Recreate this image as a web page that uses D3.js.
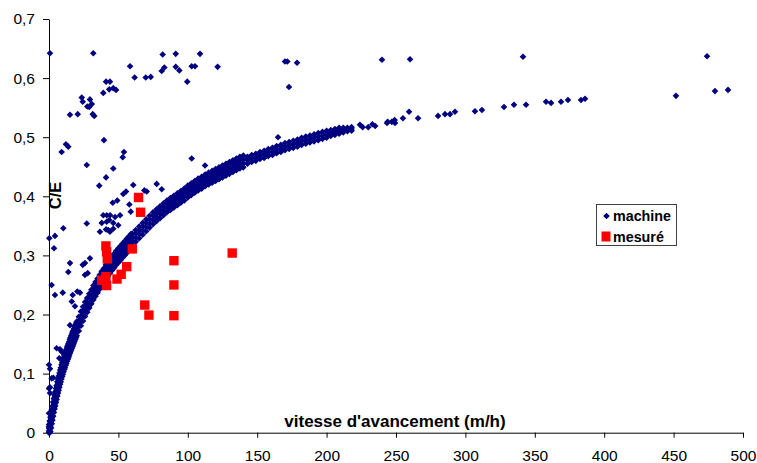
<!DOCTYPE html>
<html><head><meta charset="utf-8">
<script src="https://cdn.jsdelivr.net/npm/d3@7"></script>
<style>
html,body{margin:0;padding:0;background:#fff;}
svg{display:block;font-family:"Liberation Sans",Arial,sans-serif;}
</style></head>
<body>
<svg id="chart" width="757" height="463"></svg>
<script>
// ---- data ----
const xTicks = [0,50,100,150,200,250,300,350,400,450,500];
const yTicks = [0,0.1,0.2,0.3,0.4,0.5,0.6,0.7];
const seriesNames = ["machine","mesuré"];

// dense "machine" band: [x, y values...]
const machineBand = [
[0,0.000,0.003,0.008,0.014],[1,0.002,0.010,0.018,0.026],[2,0.015,0.023,0.031,0.039],
[3,0.028,0.036,0.044,0.052],[4,0.040,0.048,0.056,0.064],[5,0.051,0.059,0.067,0.075],
[6,0.062,0.070,0.078,0.086],[7,0.072,0.080,0.088,0.096],[8,0.082,0.090,0.098,0.106],
[9,0.091,0.099,0.107,0.115],[10,0.099,0.107,0.115,0.123],[11,0.107,0.115,0.123,0.131],
[12,0.114,0.122,0.130,0.138],[13,0.121,0.129,0.137,0.145],[14,0.127,0.135,0.143,0.151],
[15,0.134,0.142,0.150,0.158],[16,0.140,0.148,0.156,0.164],[17,0.146,0.154,0.162,0.170],
[18,0.152,0.160,0.168,0.176],[19,0.158,0.166,0.174,0.182],[20,0.164,0.172,0.180,0.188],
[0.5,0.000,0.006,0.013,0.020],[1.5,0.008,0.016,0.024,0.032],[2.5,0.021,0.029,0.037,0.045],
[3.5,0.034,0.042,0.050,0.058],[4.5,0.045,0.053,0.061,0.069],[5.5,0.056,0.064,0.072,0.080],
[6.5,0.067,0.075,0.083,0.091],[7.5,0.077,0.085,0.093,0.101],[8.5,0.086,0.094,0.102,0.110],
[9.5,0.095,0.103,0.111,0.119],[10.5,0.103,0.111,0.119,0.127],[11.5,0.110,0.118,0.126,0.134],
[12.5,0.117,0.125,0.133,0.141],[13.5,0.124,0.132,0.140,0.148],[14.5,0.130,0.138,0.146,0.154],
[15.5,0.137,0.145,0.153,0.161],[16.5,0.143,0.151,0.159,0.167],[17.5,0.149,0.157,0.165,0.173],
[18.5,0.155,0.163,0.171,0.179],[19.5,0.161,0.169,0.177,0.185],
[21.5,0.172,0.180,0.188,0.196],[23,0.181,0.189,0.197,0.205],[24.5,0.189,0.197,0.205,0.213],
[26,0.197,0.205,0.213,0.221],[27.5,0.204,0.212,0.220,0.228],[29,0.211,0.219,0.227,0.235],
[30.5,0.218,0.226,0.234,0.242],[32,0.225,0.233,0.241,0.249],[33.5,0.231,0.239,0.247,0.255],
[35,0.237,0.245,0.253,0.261],[36.5,0.243,0.251,0.259,0.267],[38,0.249,0.257,0.265,0.273],
[39.5,0.254,0.262,0.270,0.278],[41,0.260,0.268,0.276,0.284],[42.5,0.265,0.273,0.281,0.289],
[44,0.270,0.278,0.286,0.294],[45.5,0.275,0.283,0.291,0.299],[47,0.279,0.287,0.295,0.303],
[48.5,0.284,0.292,0.300,0.308],[50,0.288,0.296,0.304,0.312],[51.5,0.292,0.300,0.308,0.316],
[53,0.296,0.304,0.312,0.320],[54.5,0.300,0.308,0.316,0.324],[56,0.304,0.312,0.320,0.328],
[57.5,0.308,0.316,0.324,0.332],[59,0.312,0.320,0.328,0.336],
[60,0.317,0.324,0.331,0.337],[62.5,0.323,0.330,0.337,0.343],[65,0.329,0.336,0.343,0.349],
[67.5,0.335,0.342,0.349,0.355],[70,0.341,0.348,0.355,0.361],[72.5,0.347,0.354,0.361,0.367],
[75,0.353,0.360,0.367,0.373],[77.5,0.358,0.365,0.372,0.378],[80,0.363,0.370,0.377,0.383],
[82.5,0.368,0.375,0.382,0.388],[85,0.373,0.380,0.387,0.393],[87.5,0.377,0.384,0.391,0.397],
[90,0.381,0.388,0.395,0.401],[92.5,0.385,0.392,0.399,0.405],[95,0.389,0.396,0.403,0.409],
[97.5,0.393,0.400,0.407,0.413],[100,0.398,0.405,0.412,0.418],[102.5,0.402,0.409,0.416,0.422],
[105,0.406,0.413,0.420,0.426],[107.5,0.410,0.417,0.424,0.430],[110,0.413,0.420,0.427,0.433],
[112.5,0.417,0.424,0.431,0.437],[115,0.420,0.427,0.434,0.440],[117.5,0.423,0.430,0.437,0.443],
[120,0.426,0.433,0.440,0.446],[122.5,0.429,0.436,0.443,0.449],[125,0.432,0.439,0.446,0.452],
[127.5,0.435,0.442,0.449,0.455],[130,0.438,0.445,0.452,0.458],[132.5,0.441,0.448,0.455,0.461],
[135,0.444,0.451,0.458,0.464],[137.5,0.447,0.454,0.461,0.467],[140,0.449,0.456,0.463,0.469],
[143,0.455,0.461,0.467],[146,0.458,0.464,0.470],[149,0.460,0.466,0.472],[152,0.463,0.469,0.475],
[155,0.465,0.471,0.477],[158,0.468,0.474,0.480],[161,0.470,0.476,0.482],[164,0.473,0.479,0.485],
[167,0.475,0.481,0.487],[170,0.478,0.484,0.490],[173,0.480,0.486,0.492],[176,0.482,0.488,0.494],
[179,0.484,0.490,0.496],[182,0.487,0.493,0.499],[185,0.489,0.495,0.501],[188,0.491,0.497,0.503],
[191,0.493,0.499,0.505],[194,0.495,0.501,0.507],[197,0.497,0.503,0.509],[200,0.499,0.505,0.511],
[203,0.502,0.507,0.512],[206,0.504,0.509,0.514],[209,0.506,0.511,0.516],[212,0.508,0.512,0.516],
[215,0.510,0.513,0.516],[218,0.511,0.514,0.517]
];

// scattered "machine" points: [x, y]
const machineScatter = [
[224,0.521],[226,0.517],[230,0.517],[233,0.522],[235,0.519],[243.5,0.524],[247,0.526],[249,0.529],
[244,0.526],[249.3,0.524],[255,0.532],[259.4,0.543],[265.9,0.532],[280.3,0.536],[285.3,0.539],
[288.9,0.539],[292.5,0.543],[306.9,0.544],[311.9,0.546],[327.8,0.551],[335,0.555],[343.7,0.555],
[358.1,0.560],[361.7,0.558],[368.9,0.560],[373.9,0.563],[383.3,0.563],[386.2,0.565],
[451.7,0.570],[479.8,0.578],[489.2,0.580],[165,0.500],
[170,0.628],[171.7,0.628],[178.7,0.626],[172.9,0.585],[239.9,0.631],[260.1,0.632],[341.5,0.636],[474.1,0.637],
[0.7,0.642],[31.9,0.642],[58.4,0.620],[61.7,0.601],[69.7,0.601],[73.3,0.602],[81.9,0.640],[91.3,0.641],
[108.8,0.641],[81.2,0.612],[83.1,0.618],[91.3,0.619],[93.9,0.613],[99.6,0.594],[102.8,0.620],[105.2,0.620],
[121.5,0.619],[39.1,0.575],[41.1,0.594],[43.9,0.594],[43.4,0.581],[46.3,0.583],[48.3,0.580],[23.6,0.567],
[24.3,0.560],[29.5,0.564],[30.8,0.556],[27.6,0.552],[29,0.551],[20.7,0.539],[15.1,0.538],[31.5,0.539],
[32.6,0.536],[39.6,0.495],[9.1,0.475],[12.2,0.488],[13.9,0.484],[54,0.475],[53.1,0.466],[102.8,0.464],
[27.2,0.453],[112.4,0.452],[46.3,0.447],[41.1,0.432],[36.2,0.418],[60.7,0.419],[77.6,0.421],[81.2,0.412],
[55.5,0.408],[53.5,0.404],[49.2,0.393],[45.9,0.389],[58.9,0.374],[41.6,0.368],[38,0.355],[43.4,0.360],
[46.3,0.355],[49.9,0.351],[41.1,0.344],[43.9,0.340],[36.7,0.340],[27.2,0.354],[10.3,0.346],[4.3,0.333],
[0.2,0.329],[3.6,0.312],[15.1,0.287],[29.5,0.295],[25.9,0.287],[24.3,0.284],[13.9,0.272],[27.9,0.270],
[25.9,0.267],[1.9,0.250],[4.3,0.233],[9.9,0.237],[17.1,0.233],[20.4,0.239],[22.3,0.237],[16.4,0.222],
[18.7,0.214],[57.9,0.386],[70.4,0.408],[68.7,0.410],[39.1,0.368],[44,0.368],[47.6,0.365],[51.2,0.368],
[41.6,0.357],[46.3,0.345],[42.7,0.343],[0,0.115],[0.7,0.108],[0,0.075],[0.7,0.077],[0.7,0.067],
[1.9,0.092],[3.1,0.093],[5.5,0.143],[7.9,0.141],[9.1,0.137],[7.4,0.126],[15.1,0.182],[17.1,0.171],
[18.7,0.169],[0,0.033],[0,0.010]
];

// "mesuré" points: [x, y]
const mesure = [
[41,0.316],[41.5,0.306],[42,0.294],[38,0.258],[41,0.264],[41.5,0.249],[49,0.260],[52,0.268],
[56,0.281],[60,0.311],[64.5,0.398],[66,0.373],[69,0.216],[72,0.199],[90,0.291],[90,0.250],
[90,0.198],[132,0.304]
];

// ---- drawing ----
const svg = d3.select("#chart");
const x = d3.scaleLinear().domain([0,500]).range([49,743]);
const y = d3.scaleLinear().domain([0,0.7]).range([432.7,19]);
const navy = "#000080", red = "#FF0000";
const fmt = d => d === 0 ? "0" : d3.format(".1f")(d).replace(".", ",");

const machinePts = [];
machineBand.forEach(r => r.slice(1).forEach(v => machinePts.push([r[0], v])));
machineScatter.forEach(p => machinePts.push(p));

const R = 3.3;
const diamond = `M0,${-R}L${R},0L0,${R}L${-R},0Z`;

// axes
const gx = svg.append("g").attr("transform", `translate(0,${y(0)})`)
  .call(d3.axisBottom(x).tickValues(xTicks).tickFormat(d3.format("d")).tickSize(5).tickSizeOuter(0).tickPadding(12));
const gy = svg.append("g").attr("transform", `translate(${x(0)},0)`)
  .call(d3.axisLeft(y).tickValues(yTicks).tickFormat(fmt).tickSize(6).tickSizeOuter(0).tickPadding(8));
[gx, gy].forEach(g => {
  g.selectAll("path,line").attr("stroke", "#000").attr("stroke-width", 1);
  g.selectAll("text").attr("fill", "#000").style("font-size", "15.5px")
    .style("font-family", '"Liberation Sans",Arial,sans-serif');
});

// titles
svg.append("text").attr("x", 395).attr("y", 427).attr("text-anchor", "middle")
  .style("font-size", "17px").style("font-weight", "bold").text("vitesse d'avancement (m/h)");
svg.append("text").attr("transform", `translate(60.5,195.5) rotate(-90)`).attr("text-anchor", "middle")
  .style("font-size", "16.5px").style("font-weight", "bold").text("C/E");

// machine points
svg.append("g").selectAll("path").data(machinePts).join("path")
  .attr("d", diamond).attr("fill", navy)
  .attr("transform", d => `translate(${x(d[0])},${y(d[1])})`);

// mesuré points
const S = 9.4;
svg.append("g").selectAll("rect").data(mesure).join("rect")
  .attr("x", d => x(d[0]) - S/2).attr("y", d => y(d[1]) - S/2)
  .attr("width", S).attr("height", S).attr("fill", red);

// legend
const lg = svg.append("g");
lg.append("rect").attr("x", 596.5).attr("y", 204.5).attr("width", 80).attr("height", 41)
  .attr("fill", "#fff").attr("stroke", "#404040").attr("stroke-width", 1);
lg.append("path").attr("d", diamond).attr("fill", navy).attr("transform", "translate(606.5,216)");
lg.append("rect").attr("x", 601.5).attr("y", 231.5).attr("width", 9).attr("height", 10).attr("fill", red);
lg.append("text").attr("x", 613).attr("y", 221).style("font-size", "14.3px").style("font-weight", "bold").text(seriesNames[0]);
lg.append("text").attr("x", 613).attr("y", 241.5).style("font-size", "14.3px").style("font-weight", "bold").text(seriesNames[1]);
</script>
</body></html>
